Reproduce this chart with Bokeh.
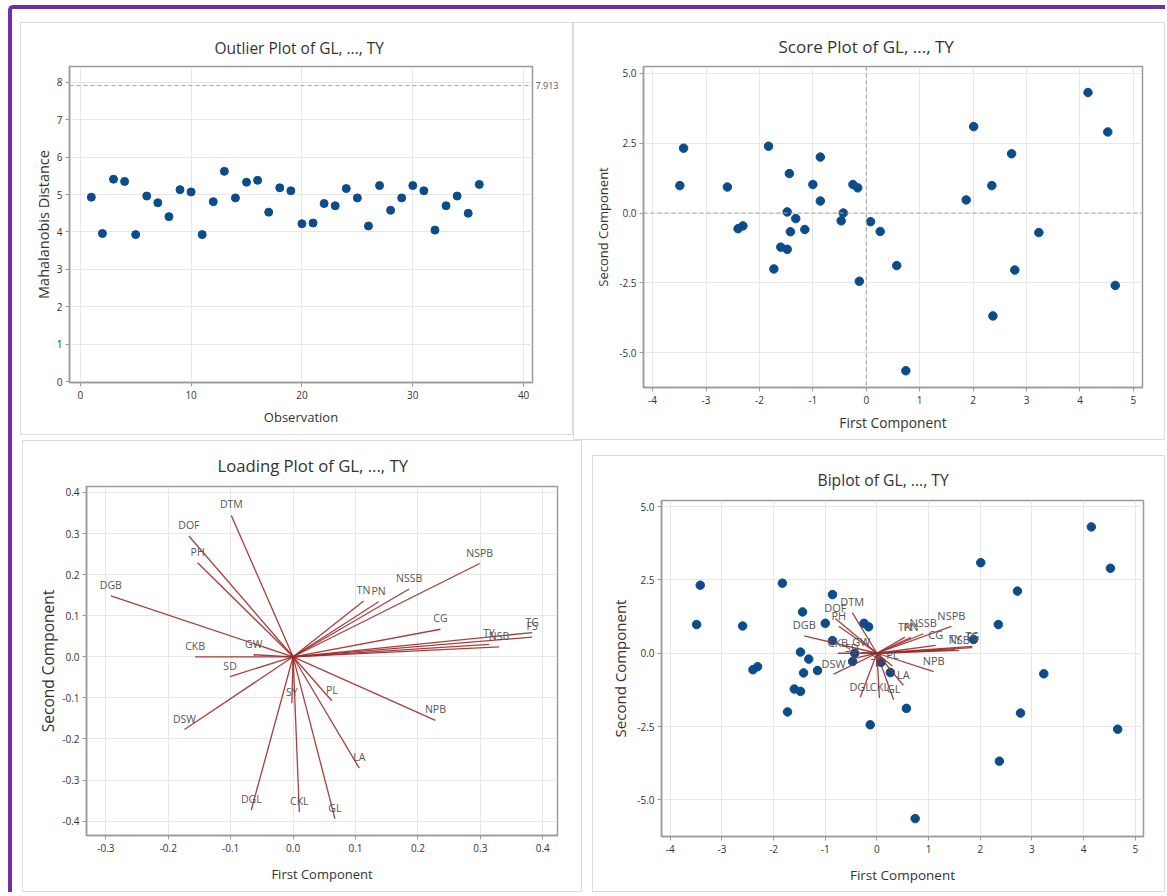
from bokeh.plotting import figure
from bokeh.layouts import row, column
from bokeh.models import Spacer, Span, FixedTicker, NumeralTickFormatter, Range1d, LinearAxis
from bokeh.core.properties import value
from bokeh.embed import file_html
from bokeh.resources import INLINE

FONT = "Open Sans"

# ---------------- data ----------------
observation = list(range(1, 37))
mahalanobis = [4.93, 3.96, 5.41, 5.35, 3.93, 4.96, 4.78, 4.41, 5.13, 5.07, 3.93, 4.81,
               5.62, 4.91, 5.33, 5.38, 4.53, 5.18, 5.10, 4.22, 4.24, 4.76, 4.70, 5.16,
               4.91, 4.16, 5.24, 4.58, 4.91, 5.24, 5.10, 4.05, 4.70, 4.96, 4.50, 5.27]
cutoff = 7.913

score_pc1 = [-3.49, -3.42, -2.60, -2.40, -2.31, -1.83, -1.73, -1.60, -1.48, -1.48, -1.44, -1.42,
             -1.32, -1.15, -1.00, -0.86, -0.86, -0.47, -0.43, -0.25, -0.16, -0.13, 0.08, 0.26,
             0.57, 0.74, 1.87, 2.01, 2.35, 2.37, 2.72, 2.78, 3.23, 4.15, 4.52, 4.66]
score_pc2 = [0.98, 2.32, 0.93, -0.56, -0.46, 2.39, -2.00, -1.22, -1.30, 0.04, 1.41, -0.67,
             -0.20, -0.59, 1.02, 2.00, 0.43, -0.28, 0.00, 1.02, 0.90, -2.44, -0.31, -0.66,
             -1.88, -5.64, 0.47, 3.09, 0.98, -3.68, 2.12, -2.04, -0.70, 4.31, 2.90, -2.59]

variables = ["DTM", "DOF", "PH", "DGB", "CKB", "GW", "SD", "DSW", "SY", "PL", "NPB", "LA",
             "GL", "CKL", "DGL", "TN", "PN", "NSSB", "NSPB", "CG", "TG", "FS", "TY", "NSB"]
loading_pc1 = [-0.099, -0.167, -0.153, -0.292, -0.157, -0.063, -0.101, -0.174, -0.002, 0.062,
               0.228, 0.106, 0.067, 0.010, -0.067, 0.113, 0.137, 0.186, 0.299, 0.236,
               0.383, 0.383, 0.314, 0.330]
loading_pc2 = [0.344, 0.294, 0.229, 0.148, 0.000, 0.005, -0.048, -0.177, -0.113, -0.107,
               -0.155, -0.271, -0.394, -0.378, -0.373, 0.136, 0.134, 0.165, 0.227, 0.067,
               0.059, 0.048, 0.030, 0.024]
# Minitab biplot scaling of loading vectors (per axis)
biplot_scale_x = 4.82
biplot_scale_y = 4.03

obs_ticks = [0, 10, 20, 30, 40]
md_ticks = [0, 1, 2, 3, 4, 5, 6, 7, 8]
pc1_score_ticks = [-4, -3, -2, -1, 0, 1, 2, 3, 4, 5]
pc2_score_ticks = [-5.0, -2.5, 0.0, 2.5, 5.0]
load_x_ticks = [-0.3, -0.2, -0.1, 0.0, 0.1, 0.2, 0.3, 0.4]
load_y_ticks = [-0.4, -0.3, -0.2, -0.1, 0.0, 0.1, 0.2, 0.3, 0.4]

# ---------------- styling helpers ----------------
DOT = "#0b4c8c"
RED = "#9c2a2a"
TXT = "#333333"


def make_fig(w, h, title, xr, yr, borders, xticks, yticks, xfmt, yfmt, xlabel, ylabel,
             title_size, title_left, title_standoff, ylabel_size, ylabel_standoff,
             xlabel_size, xlabel_standoff):
    l, r, t, b = borders
    p = figure(width=w, height=h, x_range=Range1d(*xr), y_range=Range1d(*yr),
               output_backend="svg", toolbar_location=None, title=title,
               min_border_left=l, min_border_right=r, min_border_top=t, min_border_bottom=b)
    p.styles = {"border": "1px solid #dcdcdc"}
    p.background_fill_color = "white"
    p.border_fill_color = "white"
    p.outline_line_color = "#9a9a9a"
    p.outline_line_width = 1.5
    p.title.text_font = FONT
    p.title.text_font_size = title_size
    p.title.text_font_style = "normal"
    p.title.text_color = TXT
    p.title.align = "left"
    p.title.offset = title_left
    p.title.standoff = title_standoff
    p.xaxis.ticker = FixedTicker(ticks=xticks)
    p.yaxis.ticker = FixedTicker(ticks=yticks)
    p.xaxis.formatter = NumeralTickFormatter(format=xfmt)
    p.yaxis.formatter = NumeralTickFormatter(format=yfmt)
    p.xaxis.axis_label = xlabel
    p.yaxis.axis_label = ylabel
    for ax in (p.xaxis, p.yaxis):
        ax.axis_label_text_font = FONT
        ax.axis_label_text_font_style = "normal"
        ax.axis_label_text_color = TXT
        ax.major_label_text_font = FONT
        ax.major_label_text_font_size = "10px"
        ax.major_label_text_color = TXT
        ax.axis_line_color = "#9a9a9a"
        ax.axis_line_width = 1.5
        ax.major_tick_line_color = "#9a9a9a"
        ax.major_tick_out = 4
        ax.major_tick_in = 0
        ax.minor_tick_line_color = None
        ax.major_label_standoff = 4
    p.xaxis.axis_label_text_font_size = xlabel_size
    p.xaxis.axis_label_standoff = xlabel_standoff
    p.yaxis.axis_label_text_font_size = ylabel_size
    p.yaxis.axis_label_standoff = ylabel_standoff
    p.yaxis.major_label_standoff = 3
    p.grid.grid_line_color = "#e6e6e6"
    p.grid.grid_line_width = 1
    return p


# ---------------- outlier plot ----------------
p1 = make_fig(553, 413, "Outlier Plot of GL, ..., TY", (-0.97, 40.8), (-0.02, 8.42),
              (48, 42, 42, 52), obs_ticks, md_ticks, "0", "0",
              "Observation", "Mahalanobis Distance",
              "15.5px", 145, 16, "14.5px", 1, "13px", 6)
p1.add_layout(Span(location=cutoff, dimension="width", line_color="#a8a8a8",
                   line_dash="4 3", line_width=1.2))
p1.scatter(observation, mahalanobis, size=8, color=DOT, marker="circle")
cut_axis = LinearAxis(ticker=FixedTicker(ticks=[cutoff]),
                      formatter=NumeralTickFormatter(format="0.000"),
                      axis_line_color=None, major_tick_line_color=None,
                      major_tick_out=0, major_tick_in=0,
                      minor_tick_line_color=None, major_label_standoff=3,
                      major_label_text_font=FONT, major_label_text_font_size="9px",
                      major_label_text_color="#555555")
p1.add_layout(cut_axis, "right")

# ---------------- score plot ----------------
p2 = make_fig(592, 418, "Score Plot of GL, ..., TY", (-4.17, 5.17), (-6.24, 5.24),
              (69, 24, 42, 54), pc1_score_ticks, pc2_score_ticks, "0", "0.0",
              "First Component", "Second Component",
              "17px", 135, 18, "13px", 4, "13.8px", 6)
p2.add_layout(Span(location=0, dimension="width", line_color="#a8a8a8",
                   line_dash="4 3", line_width=1.2))
p2.add_layout(Span(location=0, dimension="height", line_color="#a8a8a8",
                   line_dash="4 3", line_width=1.2))
p2.scatter(score_pc1, score_pc2, size=8.5, color=DOT, marker="circle")

# ---------------- loading plot ----------------
p3 = make_fig(560, 452, "Loading Plot of GL, ..., TY", (-0.331, 0.4236), (-0.435, 0.4145),
              (63, 26, 44, 58), load_x_ticks, load_y_ticks, "0.0", "0.0",
              "First Component", "Second Component",
              "16.7px", 131, 20, "15.5px", 0, "13px", 10)
zeros = [0.0] * len(variables)
p3.segment(x0=zeros, y0=zeros, x1=loading_pc1, y1=loading_pc2,
           line_color=RED, line_width=1.3, line_alpha=0.9)
p3.text(x=loading_pc1, y=loading_pc2, text=variables, text_font=value(FONT),
        text_font_size="10.5px", text_color="#555555", text_align="center",
        text_baseline="middle", y_offset=-11)

# ---------------- biplot ----------------
bx = [v * biplot_scale_x for v in loading_pc1]
by = [v * biplot_scale_y for v in loading_pc2]
p4 = make_fig(573, 437, "Biplot of GL, ..., TY", (-4.17, 5.16), (-6.25, 5.21),
              (68, 23, 44, 57), pc1_score_ticks, pc2_score_ticks, "0", "0.0",
              "First Component", "Second Component",
              "15.7px", 156, 20, "15px", 4, "13.5px", 10)
p4.scatter(score_pc1, score_pc2, size=8.5, color=DOT, marker="circle")
p4.segment(x0=zeros, y0=zeros, x1=bx, y1=by, line_color=RED, line_width=1.3, line_alpha=0.9)
p4.text(x=bx, y=by, text=variables, text_font=value(FONT), text_font_size="11px",
        text_color="#555555", text_align="center", text_baseline="middle", y_offset=-11)

# ---------------- layout ----------------
top = row(Spacer(width=8, height=10), p1, p2)
bottom = row(Spacer(width=10, height=10), p3, Spacer(width=10, height=10),
             column(Spacer(width=10, height=15), p4))
framed = column(Spacer(width=10, height=13), top, bottom,
                styles={"border-top": "4px solid #7030a0", "border-left": "4px solid #7030a0",
                        "border-top-left-radius": "5px"})
page = column(Spacer(width=10, height=5), row(Spacer(width=8, height=10), framed))

open("out.html", "w").write(file_html(page, INLINE))
